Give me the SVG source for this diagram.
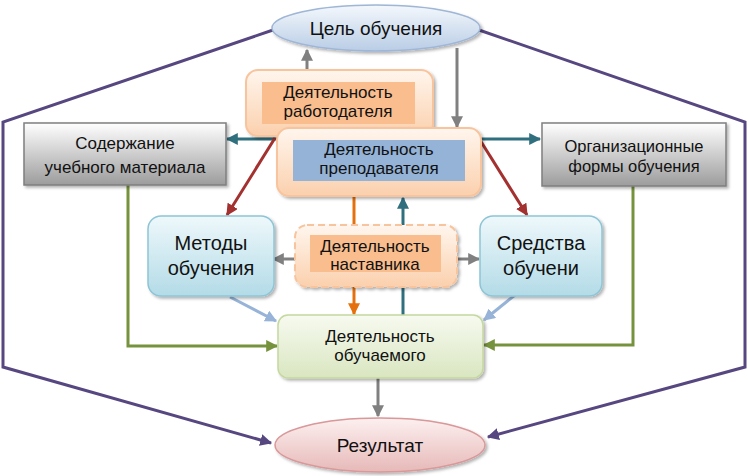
<svg xmlns="http://www.w3.org/2000/svg" width="748" height="476" viewBox="0 0 748 476">
<defs>
<style>
text{font-family:"Liberation Sans",Arial,sans-serif;fill:#111;text-anchor:middle}
.t17{font-size:17px}.t16{font-size:16.5px}.t19{font-size:19px}.t20{font-size:20px}
.ln{fill:none;stroke-width:3}
</style>
<linearGradient id="gBlueEl" x1="0" y1="0" x2="0" y2="1"><stop offset="0" stop-color="#f4f8fc"/><stop offset="1" stop-color="#b9cde5"/></linearGradient>
<linearGradient id="gPink" x1="0" y1="0" x2="0" y2="1"><stop offset="0" stop-color="#fdf0f0"/><stop offset="1" stop-color="#e6b9b8"/></linearGradient>
<linearGradient id="gGray" x1="0" y1="0" x2="0" y2="1"><stop offset="0" stop-color="#ffffff"/><stop offset="1" stop-color="#9c9c9c"/></linearGradient>
<linearGradient id="gCyan" x1="0" y1="0" x2="0" y2="1"><stop offset="0" stop-color="#eef8fb"/><stop offset="1" stop-color="#b3dbe7"/></linearGradient>
<linearGradient id="gGreen" x1="0" y1="0" x2="0" y2="1"><stop offset="0" stop-color="#f7faf0"/><stop offset="1" stop-color="#d9e6c0"/></linearGradient>
<linearGradient id="gPeach" x1="0" y1="0" x2="0" y2="1"><stop offset="0" stop-color="#fff6ee"/><stop offset="1" stop-color="#fbd0ad"/></linearGradient>
<filter id="sh" x="-10%" y="-10%" width="125%" height="130%"><feDropShadow dx="2" dy="2" stdDeviation="1.5" flood-color="#000" flood-opacity="0.3"/></filter>
<marker id="aGray" viewBox="0 0 10 10" refX="9" refY="5" markerWidth="4" markerHeight="4" orient="auto" markerUnits="strokeWidth"><path d="M0,0L10,5L0,10z" fill="#808080"/></marker>
<marker id="aTeal" viewBox="0 0 10 10" refX="9" refY="5" markerWidth="4" markerHeight="4" orient="auto" markerUnits="strokeWidth"><path d="M0,0L10,5L0,10z" fill="#2f6f7e"/></marker>
<marker id="aRed" viewBox="0 0 10 10" refX="9" refY="5" markerWidth="4" markerHeight="4" orient="auto" markerUnits="strokeWidth"><path d="M0,0L10,5L0,10z" fill="#a2312f"/></marker>
<marker id="aOrange" viewBox="0 0 10 10" refX="9" refY="5" markerWidth="4" markerHeight="4" orient="auto" markerUnits="strokeWidth"><path d="M0,0L10,5L0,10z" fill="#e4700e"/></marker>
<marker id="aGreen" viewBox="0 0 10 10" refX="9" refY="5" markerWidth="4" markerHeight="4" orient="auto" markerUnits="strokeWidth"><path d="M0,0L10,5L0,10z" fill="#76923c"/></marker>
<marker id="aLBlue" viewBox="0 0 10 10" refX="9" refY="5" markerWidth="4" markerHeight="4" orient="auto" markerUnits="strokeWidth"><path d="M0,0L10,5L0,10z" fill="#97b4d8"/></marker>
<marker id="aPurple" viewBox="0 0 10 10" refX="9" refY="5" markerWidth="4" markerHeight="4" orient="auto" markerUnits="strokeWidth"><path d="M0,0L10,5L0,10z" fill="#574780"/></marker>
</defs>
<rect width="748" height="476" fill="#ffffff"/>

<g id="connectors">
<path class="ln" d="M273,30 L3,122 L3,367 L271,443" stroke="#574780" marker-end="url(#aPurple)"/>
<path class="ln" d="M479,30 L745,122 L745,367 L488,437" stroke="#574780" marker-end="url(#aPurple)"/>
<path class="ln" d="M307,72 L307,50" stroke="#808080" marker-end="url(#aGray)"/>
<path class="ln" d="M457,48 L457,127" stroke="#808080" marker-end="url(#aGray)"/>
<path class="ln" d="M380,139 L227,139" stroke="#2f6f7e" marker-end="url(#aTeal)"/>
<path class="ln" d="M380,139 L540,139" stroke="#2f6f7e" marker-end="url(#aTeal)"/>
<path class="ln" d="M275,138 L227,215" stroke="#a2312f" marker-end="url(#aRed)"/>
<path class="ln" d="M480,140 L527,215" stroke="#a2312f" marker-end="url(#aRed)"/>
<path class="ln" d="M354,196 L354,314" stroke="#e4700e" marker-end="url(#aOrange)"/>
<path class="ln" d="M403,315 L403,198" stroke="#2f6f7e" marker-end="url(#aTeal)"/>
<path class="ln" d="M295,259 L273,259" stroke="#808080" marker-end="url(#aGray)"/>
<path class="ln" d="M457,259 L479,259" stroke="#808080" marker-end="url(#aGray)"/>
<path class="ln" d="M230,297 L276,321" stroke="#97b4d8" marker-end="url(#aLBlue)"/>
<path class="ln" d="M515,295 L484,320" stroke="#97b4d8" marker-end="url(#aLBlue)"/>
<path class="ln" d="M128,185 L128,346 L277,346" stroke="#76923c" marker-end="url(#aGreen)"/>
<path class="ln" d="M633,186 L633,345 L484,345" stroke="#76923c" marker-end="url(#aGreen)"/>
<path class="ln" d="M378,378 L378,416" stroke="#808080" marker-end="url(#aGray)"/>
</g>

<g id="goal">
<ellipse cx="376" cy="28" rx="104" ry="23" fill="url(#gBlueEl)" stroke="#9fb6d6" stroke-width="1.5" filter="url(#sh)"/>
<text class="t19" x="376" y="35">Цель обучения</text>
</g>

<g id="employer">
<rect x="246" y="70" width="187" height="66" rx="12" fill="url(#gPeach)" stroke="#f8c49d" stroke-width="2" filter="url(#sh)"/>
<rect x="262" y="82" width="153" height="42" fill="#f9bd8e"/>
<text class="t17" x="338" y="98">Деятельность</text>
<text class="t17" x="338" y="117">работодателя</text>
</g>

<g id="teacher">
<rect x="277" y="128" width="204" height="68" rx="12" fill="url(#gPeach)" stroke="#f8c49d" stroke-width="2" filter="url(#sh)"/>
<rect x="293" y="140" width="172" height="41" fill="#95b3d7"/>
<text class="t17" x="379" y="155">Деятельность</text>
<text class="t17" x="379" y="174">преподавателя</text>
</g>

<g id="content">
<rect x="24" y="123" width="202" height="62" fill="url(#gGray)" stroke="#7f7f7f" stroke-width="1.5" filter="url(#sh)"/>
<text class="t17" x="125" y="149">Содержание</text>
<text class="t17" x="125" y="173">учебного материала</text>
</g>

<g id="forms">
<rect x="542" y="123" width="184" height="63" fill="url(#gGray)" stroke="#7f7f7f" stroke-width="1.5" filter="url(#sh)"/>
<text class="t16" x="634" y="152">Организационные</text>
<text class="t16" x="634" y="172">формы обучения</text>
</g>

<g id="methods">
<rect x="148" y="216" width="126" height="80" rx="13" fill="url(#gCyan)" stroke="#8ec5d6" stroke-width="1.5" filter="url(#sh)"/>
<text class="t20" x="211" y="250">Методы</text>
<text class="t20" x="211" y="275">обучения</text>
</g>

<g id="means">
<rect x="480" y="216" width="122" height="80" rx="13" fill="url(#gCyan)" stroke="#8ec5d6" stroke-width="1.5" filter="url(#sh)"/>
<text class="t20" x="541" y="250">Средства</text>
<text class="t20" x="541" y="275">обучени</text>
</g>

<g id="mentor">
<rect x="295" y="225" width="162" height="62" rx="12" fill="url(#gPeach)" stroke="#f8c49d" stroke-width="2" stroke-dasharray="7,4" filter="url(#sh)"/>
<rect x="310" y="235" width="131" height="37" fill="#f9bd8e"/>
<text class="t17" x="375" y="252">Деятельность</text>
<text class="t17" x="375" y="270">наставника</text>
</g>

<g id="learner">
<rect x="278" y="315" width="205" height="63" rx="10" fill="url(#gGreen)" stroke="#c5d8a0" stroke-width="1.5" filter="url(#sh)"/>
<text class="t17" x="380" y="342">Деятельность</text>
<text class="t17" x="380" y="361">обучаемого</text>
</g>

<g id="result">
<ellipse cx="380" cy="445" rx="105" ry="27" fill="url(#gPink)" stroke="#d9989a" stroke-width="1.5" filter="url(#sh)"/>
<text class="t19" x="380" y="452">Результат</text>
</g>
</svg>
